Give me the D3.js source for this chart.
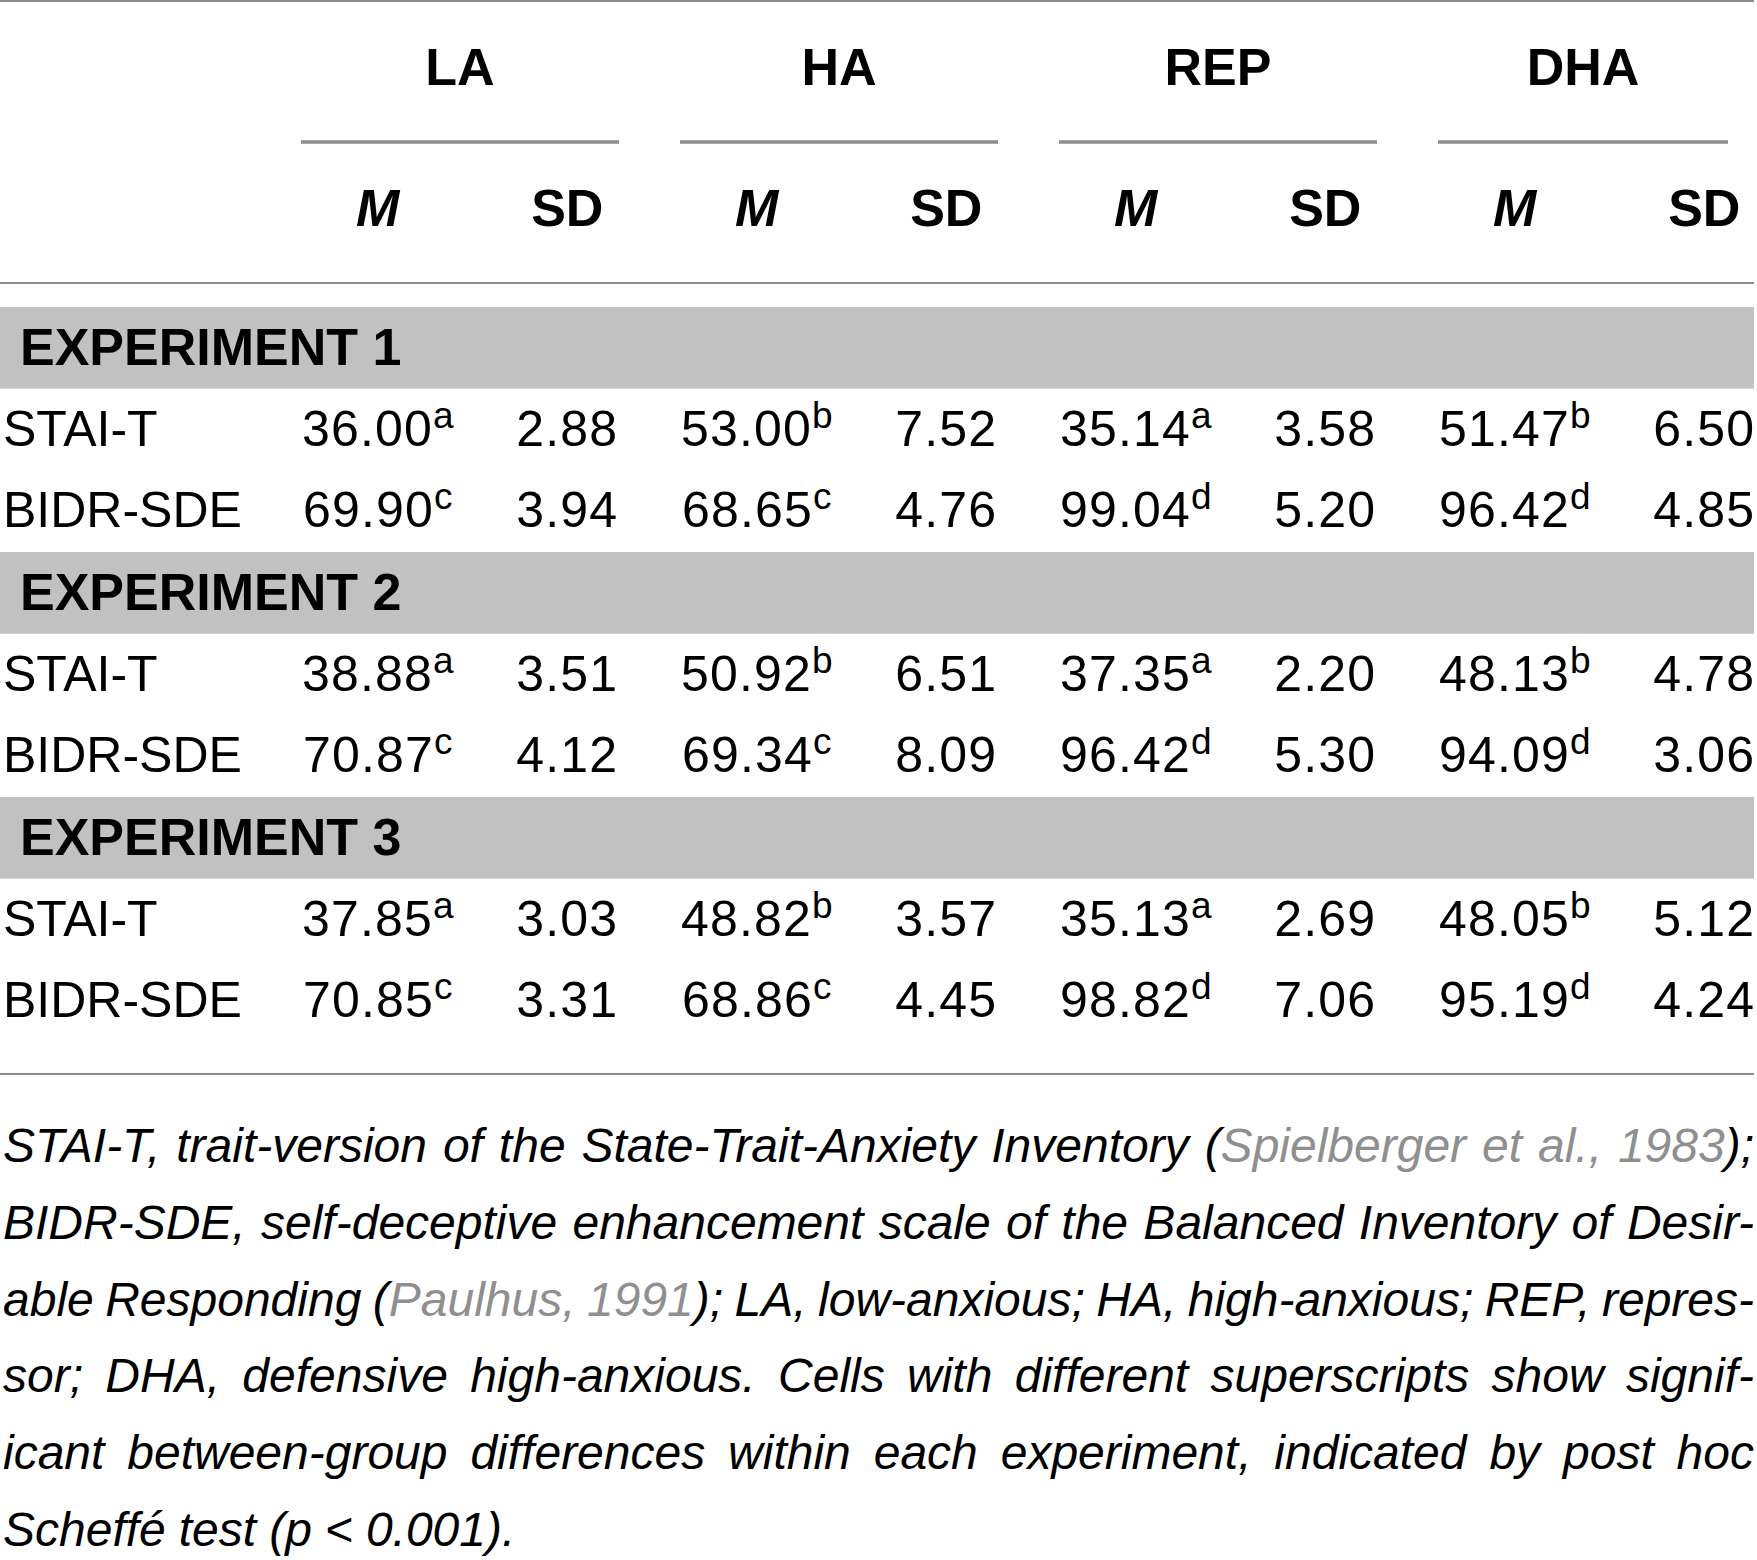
<!DOCTYPE html>
<html>
<head>
<meta charset="utf-8">
<script src="https://cdn.jsdelivr.net/npm/d3@7"></script>
<style>
  body { margin: 0; background: #fff; }
  svg { display: block; }
  text { font-family: "Liberation Sans", Arial, Helvetica, sans-serif; fill: #000; }
</style>
</head>
<body>
<script>
// table contents
var groups = ["LA", "HA", "REP", "DHA"];
var stats = ["M", "SD"];
var experiments = ["EXPERIMENT 1", "EXPERIMENT 2", "EXPERIMENT 3"];
var measures = ["STAI-T", "BIDR-SDE"];

var staiMean = [[36.00, 53.00, 35.14, 51.47], [38.88, 50.92, 37.35, 48.13], [37.85, 48.82, 35.13, 48.05]];
var staiSD   = [[2.88, 7.52, 3.58, 6.50], [3.51, 6.51, 2.20, 4.78], [3.03, 3.57, 2.69, 5.12]];
var bidrMean = [[69.90, 68.65, 99.04, 96.42], [70.87, 69.34, 96.42, 94.09], [70.85, 68.86, 98.82, 95.19]];
var bidrSD   = [[3.94, 4.76, 5.20, 4.85], [4.12, 8.09, 5.30, 3.06], [3.31, 4.45, 7.06, 4.24]];
var staiSup = ["a", "b", "a", "b"];
var bidrSup = ["c", "c", "d", "d"];

// footnote lines, [text, isCitation]
var footLines = [
  [["STAI-T, trait-version of the State-Trait-Anxiety Inventory (", 0], ["Spielberger et al., 1983", 1], [");", 0]],
  [["BIDR-SDE, self-deceptive enhancement scale of the Balanced Inventory of Desir-", 0]],
  [["able Responding (", 0], ["Paulhus, 1991", 1], ["); LA, low-anxious; HA, high-anxious; REP, repres-", 0]],
  [["sor; DHA, defensive high-anxious. Cells with different superscripts show signif-", 0]],
  [["icant between-group differences within each experiment, indicated by post hoc", 0]],
  [["Scheffé test (p < 0.001).", 0]]
];

var width = 1757, height = 1560, right = 1754;
var fmt = d3.format(".2f");

var svg = d3.select("body").append("svg")
  .attr("width", width)
  .attr("height", height);

// column scales
var gx = d3.scaleBand().domain(groups).range([301, 1756]).paddingInner(0.161);
var cols = [];
groups.forEach(function(g) { stats.forEach(function(s) { cols.push(g + "_" + s); }); });
var cx = d3.scaleBand().domain(cols).range([283, 283 + 8 * 189.5]);
function colMid(g, s) { return cx(g + "_" + s) + cx.bandwidth() / 2; }

// rows
var rows = [];
experiments.forEach(function(e, i) {
  rows.push({ key: e, type: "band", label: e });
  measures.forEach(function(m) { rows.push({ key: e + m, type: "data", label: m, exp: i }); });
});
var ry = d3.scaleBand().domain(rows.map(function(r) { return r.key; })).range([307, 1042]);

// rules
function rule(y, w, x1, x2) {
  svg.append("line")
    .attr("x1", x1 || 0).attr("x2", x2 || right)
    .attr("y1", y).attr("y2", y)
    .attr("stroke", "#8c8c8c").attr("stroke-width", w);
}
rule(1, 2);
rule(283, 2);
rule(1074, 2);

// group headers
var head = svg.append("g");
groups.forEach(function(g) {
  var x1 = gx(g), x2 = Math.min(gx(g) + gx.bandwidth(), 1728);
  rule(142, 3.5, x1, x2);
  head.append("text")
    .attr("x", (x1 + x2) / 2).attr("y", 85)
    .attr("text-anchor", "middle")
    .style("font-size", "52px").style("font-weight", "bold")
    .text(g);
  stats.forEach(function(s) {
    head.append("text")
      .attr("x", colMid(g, s)).attr("y", 226)
      .attr("text-anchor", "middle")
      .style("font-size", "52px").style("font-weight", "bold")
      .style("font-style", s == "M" ? "italic" : "normal")
      .text(s);
  });
});

// body
var body = svg.append("g");
rows.forEach(function(r) {
  var y = ry(r.key);
  if (r.type == "band") {
    body.append("rect")
      .attr("x", 0).attr("y", y)
      .attr("width", right).attr("height", ry.bandwidth())
      .attr("fill", "#c1c1c1");
    body.append("text")
      .attr("x", 20).attr("y", y + 58)
      .style("font-size", "52px").style("font-weight", "bold")
      .text(r.label);
    return;
  }
  body.append("text")
    .attr("x", 3).attr("y", y + 57)
    .style("font-size", "50px")
    .text(r.label);
  var isStai = r.label == "STAI-T";
  var means = isStai ? staiMean[r.exp] : bidrMean[r.exp];
  var sds = isStai ? staiSD[r.exp] : bidrSD[r.exp];
  var sups = isStai ? staiSup : bidrSup;
  groups.forEach(function(g, j) {
    var t = body.append("text")
      .attr("x", colMid(g, "M")).attr("y", y + 57)
      .attr("text-anchor", "middle")
      .style("font-size", "50px");
    t.append("tspan").style("letter-spacing", "1.2px").text(fmt(means[j]));
    t.append("tspan")
      .attr("dy", -18)
      .style("font-size", "37px")
      .text(sups[j]);
    body.append("text")
      .attr("x", colMid(g, "SD")).attr("y", y + 57)
      .attr("text-anchor", "middle")
      .style("font-size", "50px")
      .style("letter-spacing", "1.2px")
      .text(fmt(sds[j]));
  });
});

// footnote, justified word by word
var foot = svg.append("g")
  .style("font-size", "48px").style("font-style", "italic");
var fy = d3.scaleLinear().domain([0, 1]).range([1162, 1238.8]);

footLines.forEach(function(line, li) {
  // split into words keeping colour runs
  var words = [[]];
  line.forEach(function(seg) {
    var parts = seg[0].split(" ");
    parts.forEach(function(p, k) {
      if (k > 0) words.push([]);
      if (p.length) words[words.length - 1].push([p, seg[1]]);
    });
  });
  words = words.filter(function(w) { return w.length; });

  var nodes = words.map(function(w) {
    var t = foot.append("text").attr("y", fy(li));
    w.forEach(function(piece) {
      t.append("tspan")
        .style("fill", piece[1] ? "#8f8f8f" : "#000")
        .text(piece[0]);
    });
    return t;
  });
  var widths = nodes.map(function(t) { return t.node().getComputedTextLength(); });
  var total = d3.sum(widths);
  var last = li == footLines.length - 1;
  var gap = last ? 13 : (right - 3 - total) / (nodes.length - 1);
  var x = 3;
  nodes.forEach(function(t, k) {
    t.attr("x", x);
    x += widths[k] + gap;
  });
});
</script>
</body>
</html>
